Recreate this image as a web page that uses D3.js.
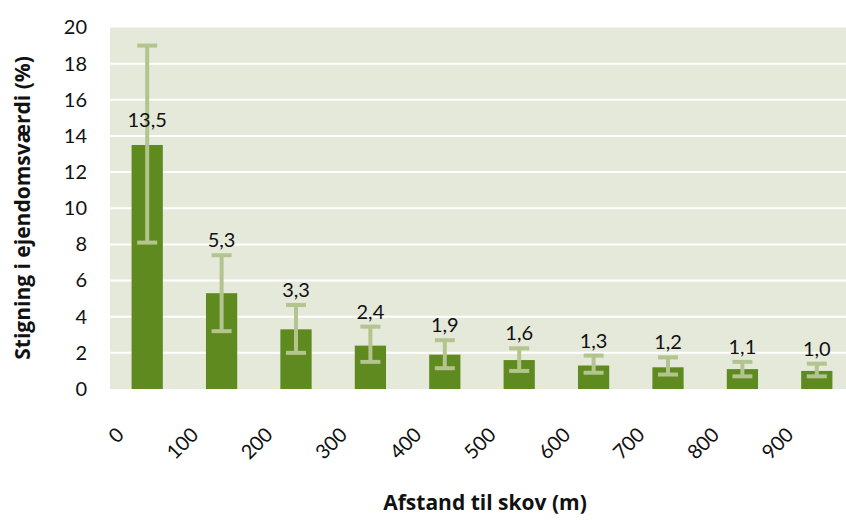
<!DOCTYPE html>
<html>
<head>
<meta charset="utf-8">
<script src="https://cdn.jsdelivr.net/npm/d3@7"></script>
<style>
  body { margin: 0; background: #fff; }
  text { font-family: Lato, 'Open Sans', sans-serif; fill: #111; }
</style>
</head>
<body>
<script>
// afstand til skov og stigning i ejendomsværdi
const distances = ['0', '100', '200', '300', '400', '500', '600', '700', '800', '900'];
const increase = [13.5, 5.3, 3.3, 2.4, 1.9, 1.6, 1.3, 1.2, 1.1, 1.0];
const lowErr = [8.1, 3.2, 2.0, 1.5, 1.15, 1.0, 0.9, 0.8, 0.7, 0.7];
const highErr = [19.0, 7.4, 4.65, 3.45, 2.7, 2.25, 1.85, 1.75, 1.5, 1.4];
const yTicks = [0, 2, 4, 6, 8, 10, 12, 14, 16, 18, 20];

const width = 846;
const height = 520;

const svg = d3.select('body')
  .append('svg')
  .attr('width', width)
  .attr('height', height);

const x = d3.scaleBand()
  .domain(distances)
  .range([110, 854])
  .paddingInner(0.58)
  .paddingOuter(0.29);

const y = d3.scaleLinear()
  .domain([0, 20])
  .range([389, 27.5]);

const fmt = v => d3.format('.1f')(v).replace('.', ',');

// plot background
svg.append('rect')
  .attr('x', 110)
  .attr('y', y(20))
  .attr('width', 854 - 110)
  .attr('height', y(0) - y(20))
  .style('fill', '#e5e9da');

// gridlines
svg.append('g')
  .selectAll('line')
  .data(yTicks.filter(d => d > 0 && d < 20))
  .enter().append('line')
    .attr('x1', 110)
    .attr('x2', 854)
    .attr('y1', d => y(d))
    .attr('y2', d => y(d))
    .style('stroke', '#fff')
    .style('stroke-width', 2);

// y axis
const yAxis = svg.append('g')
  .attr('transform', 'translate(92,0)')
  .call(d3.axisLeft(y).tickValues(yTicks).tickSize(0).tickPadding(5));
yAxis.select('.domain').remove();
yAxis.selectAll('text')
  .style('font-size', '20px')
  .style('font-family', 'Lato, sans-serif')
  .attr('fill', '#111');

const data = distances.map((d, i) => ({ d, v: increase[i], lo: lowErr[i], hi: highErr[i], i }));

// bars
svg.append('g')
  .selectAll('rect')
  .data(data)
  .enter().append('rect')
    .attr('x', d => x(d.d))
    .attr('y', d => y(d.v))
    .attr('width', x.bandwidth())
    .attr('height', d => y(0) - y(d.v))
    .style('fill', '#5e8a1f');

// error bars
const err = svg.append('g')
  .style('stroke', '#b3c48e')
  .style('stroke-width', 4);

const cx = d => x(d.d) + x.bandwidth() / 2;

err.selectAll('.stem')
  .data(data)
  .enter().append('line')
    .attr('class', 'stem')
    .attr('x1', cx).attr('x2', cx)
    .attr('y1', d => y(d.lo)).attr('y2', d => y(d.hi));

err.selectAll('.capHi')
  .data(data)
  .enter().append('line')
    .attr('x1', d => cx(d) - 10).attr('x2', d => cx(d) + 10)
    .attr('y1', d => y(d.hi)).attr('y2', d => y(d.hi));

err.selectAll('.capLo')
  .data(data)
  .enter().append('line')
    .attr('x1', d => cx(d) - 10).attr('x2', d => cx(d) + 10)
    .attr('y1', d => y(d.lo)).attr('y2', d => y(d.lo));

// value labels
svg.append('g')
  .selectAll('text')
  .data(data)
  .enter().append('text')
    .attr('x', cx)
    .attr('y', d => d.i === 0 ? y(d.v) - 18 : y(d.hi) - 8)
    .attr('text-anchor', 'middle')
    .style('font-size', '20px')
    .text(d => fmt(d.v));

// x tick labels, rotated
svg.append('g')
  .selectAll('text')
  .data(distances)
  .enter().append('text')
    .attr('transform', d => `translate(${x(d) + x.bandwidth() / 2 - 22},436) rotate(-45)`)
    .attr('text-anchor', 'end')
    .style('font-size', '20px')
    .text(d => d);

// axis titles
svg.append('text')
  .attr('x', 485)
  .attr('y', 510)
  .attr('text-anchor', 'middle')
  .style('font-family', "'Open Sans', sans-serif")
  .style('font-size', '21px')
  .style('font-weight', 'bold')
  .text('Afstand til skov (m)');

svg.append('text')
  .attr('transform', 'translate(30,208) rotate(-90)')
  .attr('text-anchor', 'middle')
  .style('font-family', "'Open Sans', sans-serif")
  .style('font-size', '21px')
  .style('font-weight', 'bold')
  .text('Stigning i ejendomsværdi (%)');
</script>
</body>
</html>
